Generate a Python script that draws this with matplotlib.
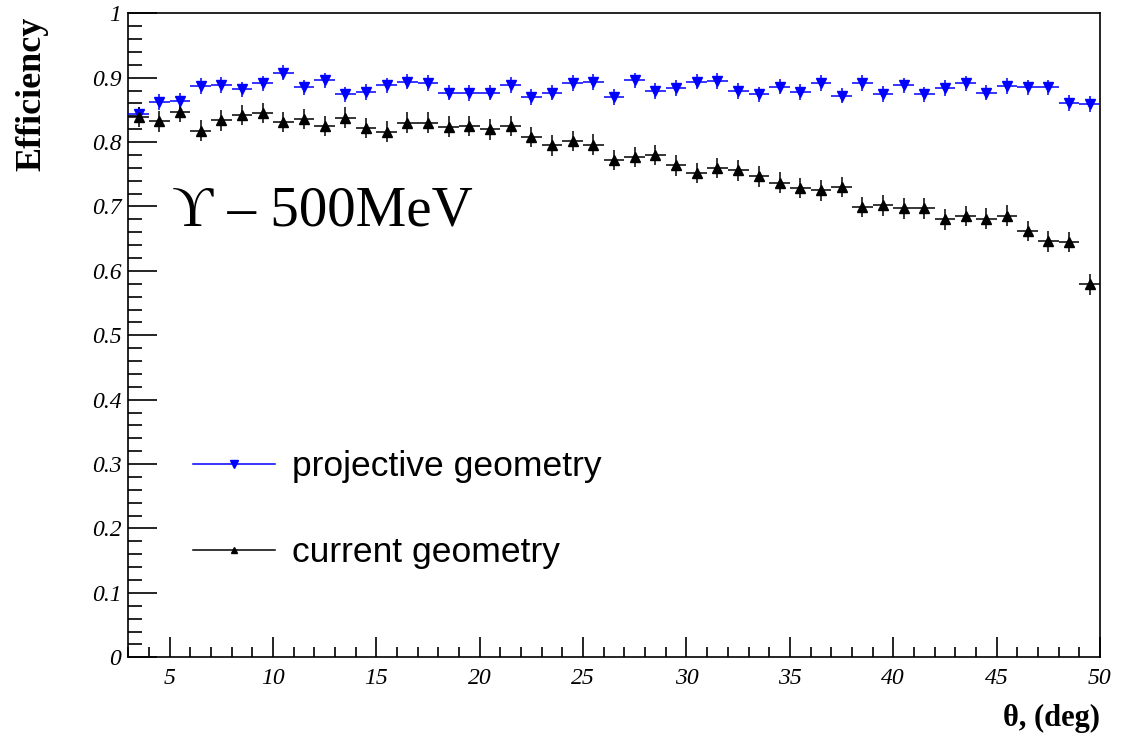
import numpy as np
import matplotlib
matplotlib.use("Agg")
import matplotlib.pyplot as plt
from matplotlib.lines import Line2D
from matplotlib.ticker import MultipleLocator, FuncFormatter
from matplotlib import font_manager

# ---------------- data ----------------
theta = np.arange(3.5, 50.0, 1.0)           # bin centres, 1 deg bins
bin_half = 0.5

eff_proj = [0.843, 0.862, 0.864, 0.887, 0.889, 0.882, 0.891, 0.908, 0.885, 0.896,
            0.874, 0.878, 0.888, 0.894, 0.892, 0.877, 0.876, 0.877, 0.889, 0.870,
            0.877, 0.892, 0.893, 0.870, 0.896, 0.879, 0.884, 0.894, 0.895, 0.879,
            0.874, 0.886, 0.878, 0.892, 0.872, 0.892, 0.875, 0.888, 0.874, 0.884,
            0.891, 0.877, 0.887, 0.885, 0.885, 0.861, 0.859]
eff_curr = [0.839, 0.832, 0.847, 0.818, 0.834, 0.842, 0.845, 0.831, 0.836, 0.825,
            0.838, 0.822, 0.816, 0.830, 0.830, 0.824, 0.825, 0.820, 0.825, 0.808,
            0.795, 0.802, 0.796, 0.772, 0.777, 0.780, 0.764, 0.752, 0.760, 0.756,
            0.747, 0.737, 0.729, 0.725, 0.730, 0.699, 0.702, 0.697, 0.697, 0.680,
            0.685, 0.681, 0.686, 0.662, 0.646, 0.645, 0.579]
err_proj = 0.012
err_curr = 0.016

labels = ["projective geometry", "current geometry"]
x_ticks = [5, 10, 15, 20, 25, 30, 35, 40, 45, 50]

# ---------------- fonts ----------------
installed = {f.name for f in font_manager.fontManager.ttflist}
if "Liberation Sans Narrow" in installed:
    leg_family, leg_size = "Liberation Sans Narrow", 30
else:
    leg_family, leg_size = "Liberation Sans", 25.5

# ---------------- figure ----------------
fig = plt.figure(figsize=(11.34, 7.39), dpi=100)
ax = fig.add_axes([0.1131, 0.1106, 0.8569, 0.8714])

ax.errorbar(theta, eff_proj, xerr=bin_half, yerr=err_proj, fmt="v", color="blue",
            ms=7, elinewidth=1.1, capsize=0, zorder=3)
ax.errorbar(theta, eff_curr, xerr=bin_half, yerr=err_curr, fmt="^", color="black",
            ms=7, elinewidth=1.1, capsize=0, zorder=3)

ax.set_xlim(3, 50)
ax.set_ylim(0, 1)

ax.xaxis.set_major_locator(MultipleLocator(5))
ax.xaxis.set_minor_locator(MultipleLocator(1))
ax.yaxis.set_major_locator(MultipleLocator(0.1))
ax.yaxis.set_minor_locator(MultipleLocator(0.02))
ax.set_xticks(x_ticks)
ax.yaxis.set_major_formatter(FuncFormatter(lambda v, p: "%g" % round(v, 2)))

ax.tick_params(axis="both", which="both", direction="in", top=False, right=False, width=1.2)
ax.tick_params(axis="y", which="major", length=21, pad=5)
ax.tick_params(axis="y", which="minor", length=10)
ax.tick_params(axis="x", which="major", length=14.5, pad=8)
ax.tick_params(axis="x", which="minor", length=7)
for lab in ax.get_xticklabels() + ax.get_yticklabels():
    lab.set_fontfamily("Liberation Serif")
    lab.set_fontstyle("italic")
    lab.set_fontsize(17)
for s in ax.spines.values():
    s.set_linewidth(1.2)

fig.text(0.028, 0.978, "Efficiency", rotation=90, ha="center", va="top",
         fontsize=26, fontweight="bold", family="Liberation Serif")
fig.text(0.970, 0.028, "θ, (deg)", ha="right", va="center",
         fontsize=22, fontweight="bold", family="Liberation Serif")

ax.text(0.045, 0.671, "ϒ – 500MeV", transform=ax.transAxes, ha="left", va="baseline",
        fontsize=41, family=["Liberation Serif", "DejaVu Serif"])

handles = [Line2D([], [], color="blue", marker="v", ms=6, lw=1.1),
           Line2D([], [], color="black", marker="^", ms=5, lw=1.1)]
ax.legend(handles, labels, loc="upper left", bbox_to_anchor=(0.0666, 0.322),
          frameon=False, borderpad=0, borderaxespad=0, handlelength=2.32,
          handletextpad=0.48, labelspacing=1.5,
          prop={"family": leg_family, "size": leg_size})

fig.savefig("out.png", dpi=100)
